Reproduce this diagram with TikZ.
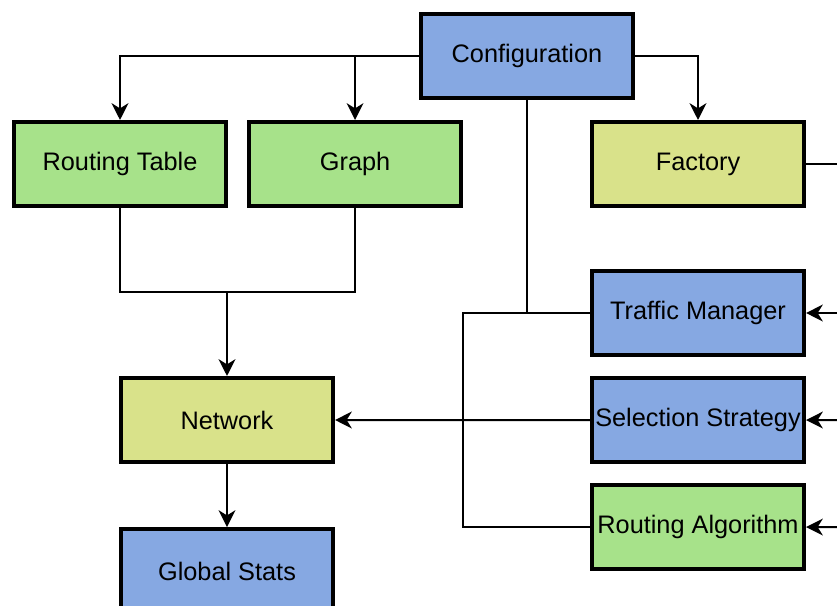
\documentclass[tikz,border=0pt]{standalone}
\usepackage{fontspec}
\setmainfont{Liberation Sans}
\usetikzlibrary{arrows.meta, positioning}
\definecolor{boxblue}{HTML}{86A8E2}
\definecolor{boxgreen}{HTML}{A7E28A}
\definecolor{boxyellow}{HTML}{D9E28A}

\begin{document}
\begin{tikzpicture}[x=0.025cm, y=-0.025cm,
    block/.style={draw, rectangle, line width=0.1cm, minimum width=5.3cm, minimum height=2.1cm,
      inner sep=0pt, font=\fontsize{18}{21}\selectfont},
    link/.style={line width=0.05cm},
    arr/.style={link, -{Stealth[length=0.42cm, width=0.42cm, inset=0.13cm]}}
  ]
    \useasboundingbox (0,0) rectangle (837,606);

    \node[block, fill=boxblue] (conf) at (527,56) {Configuration};
    \node[block, fill=boxgreen] (rt) at (120,164) {Routing Table};
    \node[block, fill=boxgreen, right=0.475cm of rt] (graph) {Graph};
    \node[block, fill=boxyellow] (fac) at (698,164) {Factory};

    \node[block, fill=boxblue] (tm) at (698,313) {Traffic Manager};
    \node[block, fill=boxblue, below=0.475cm of tm] (ss) {Selection Strategy};
    \node[block, fill=boxgreen, below=0.475cm of ss] (ra) {Routing Algorithm};

    \node[block, fill=boxyellow] (net) at (227,420) {Network};
    \node[block, fill=boxblue, below=1.575cm of net] (gs) {Global Stats};

    % free ends at the right edge
    \coordinate (facout) at (845,164);
    \coordinate (tmin) at (845,313);
    \coordinate (ssin) at (845,420);
    \coordinate (rain) at (845,527);
    \coordinate (bus) at (463,313);
    \coordinate (mid) at (227,292);

    \draw[arr] (conf.west) -| (rt.north);
    \draw[arr] (graph.north |- conf.west) -- (graph.north);
    \draw[arr] (conf.east) -| (fac.north);
    \draw[link] (fac.east) -- (facout);

    \draw[link] (conf.south) -- (conf.south |- tm.west);
    \draw[link] (tm.west) -- (bus) |- (ra.west);
    \draw[arr] (ss.west) -- (net.east);

    \draw[link] (rt.south) |- (mid) -| (graph.south);
    \draw[arr] (mid) -- (net.north);
    \draw[arr] (net.south) -- (gs.north);

    \draw[arr] (tmin) -- (tm.east);
    \draw[arr] (ssin) -- (ss.east);
    \draw[arr] (rain) -- (ra.east);
  \end{tikzpicture}
\end{document}
